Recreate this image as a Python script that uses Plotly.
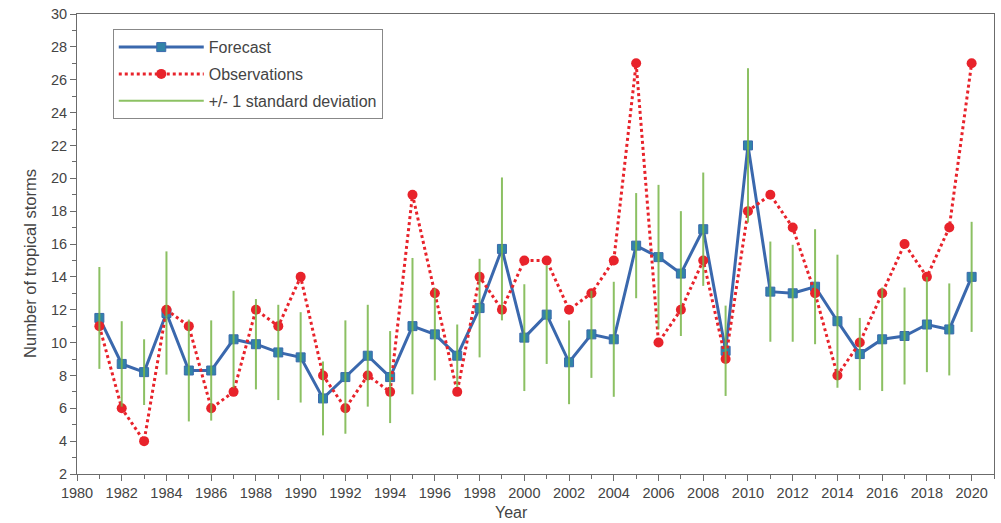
import plotly.graph_objects as go

years = list(range(1981, 2021))
forecast = [11.5, 8.7, 8.2, 11.8, 8.3, 8.3, 10.2, 9.9, 9.4, 9.1,
            6.6, 7.9, 9.2, 7.9, 11.0, 10.5, 9.2, 12.1, 15.7, 10.3,
            11.7, 8.8, 10.5, 10.2, 15.9, 15.2, 14.2, 16.9, 9.5, 22.0,
            13.1, 13.0, 13.4, 11.3, 9.3, 10.2, 10.4, 11.1, 10.8, 14.0]
observations = [11, 6, 4, 12, 11, 6, 7, 12, 11, 14,
                8, 6, 8, 7, 19, 13, 7, 14, 12, 15,
                15, 12, 13, 15, 27, 10, 12, 15, 9, 18,
                19, 17, 13, 8, 10, 13, 16, 14, 17, 27]
std_dev = [3.1, 2.6, 2.0, 3.75, 3.1, 3.05, 2.95, 2.75, 2.9, 2.75,
           2.25, 3.45, 3.1, 2.8, 4.15, 2.8, 1.9, 3.0, 4.35, 3.25,
           3.0, 2.55, 2.65, 3.5, 3.2, 4.4, 3.8, 3.45, 2.75, 4.7,
           3.05, 2.95, 3.5, 4.05, 2.2, 3.15, 2.95, 2.9, 2.8, 3.35]
x_title = "Year"
y_title = "Number of tropical storms"

# build vertical segments for +/- 1 sd
sx, sy = [], []
for yr, f, s in zip(years, forecast, std_dev):
    sx += [yr, yr, None]
    sy += [f - s, f + s, None]

FONT = "Liberation Sans, Arial"

fig = go.Figure()
fig.add_trace(go.Scatter(
    x=years, y=forecast, name="Forecast", mode="lines+markers",
    legendgroup="a",
    line=dict(color="#3a68ad", width=3),
    marker=dict(symbol="square", size=9, color="#3184a8",
                line=dict(color="#3a68ad", width=1)),
))
fig.add_trace(go.Scatter(
    x=years, y=observations, name="Observations", mode="lines+markers",
    legendgroup="b",
    line=dict(color="#e8232b", width=3, dash="dot"),
    marker=dict(symbol="circle", size=10, color="#e8232b"),
))
fig.add_trace(go.Scatter(
    x=sx, y=sy, name="+/- 1 standard deviation", mode="lines",
    legendgroup="c",
    line=dict(color="#78b648", width=2), opacity=0.85,
))

axis_common = dict(
    showgrid=False, zeroline=False, showline=True, linecolor="#6b6b6b",
    linewidth=1, mirror=True, ticks="outside", ticklen=6, tickwidth=1,
    tickcolor="#6b6b6b", tickfont=dict(family=FONT, size=14.5, color="#444444"),
)
fig.update_xaxes(range=[1980, 2021], dtick=2, tick0=1980,
                 minor=dict(dtick=1, ticks="outside", ticklen=4, tickcolor="#6b6b6b"),
                 **axis_common)
fig.update_yaxes(range=[2, 30], dtick=2, tick0=2,
                 minor=dict(dtick=1, ticks="outside", ticklen=4, tickcolor="#6b6b6b"),
                 **axis_common)

fig.add_annotation(text=x_title, xref="paper", yref="paper", x=(512 - 77) / 918,
                   y=1 - (513 - 12) / 462, xanchor="center", yanchor="middle",
                   showarrow=False, font=dict(family=FONT, size=16, color="#444444"))
fig.add_annotation(text=y_title, xref="paper", yref="paper", x=(30 - 77) / 918,
                   y=1 - (263 - 12) / 462, xanchor="center", yanchor="middle",
                   textangle=-90, showarrow=False,
                   font=dict(family=FONT, size=16.5, color="#444444"))

fig.update_layout(
    width=1001, height=523,
    margin=dict(l=77, r=6, t=12, b=49),
    plot_bgcolor="white", paper_bgcolor="white",
    font=dict(family=FONT, color="#444444"),
    legend=dict(x=0.039, y=0.967, xanchor="left", yanchor="top",
                bordercolor="#888888", borderwidth=1, bgcolor="white",
                font=dict(family=FONT, size=16, color="#444444"), itemwidth=85,
                tracegroupgap=3),
    showlegend=True,
)

fig.write_html("out.html")
